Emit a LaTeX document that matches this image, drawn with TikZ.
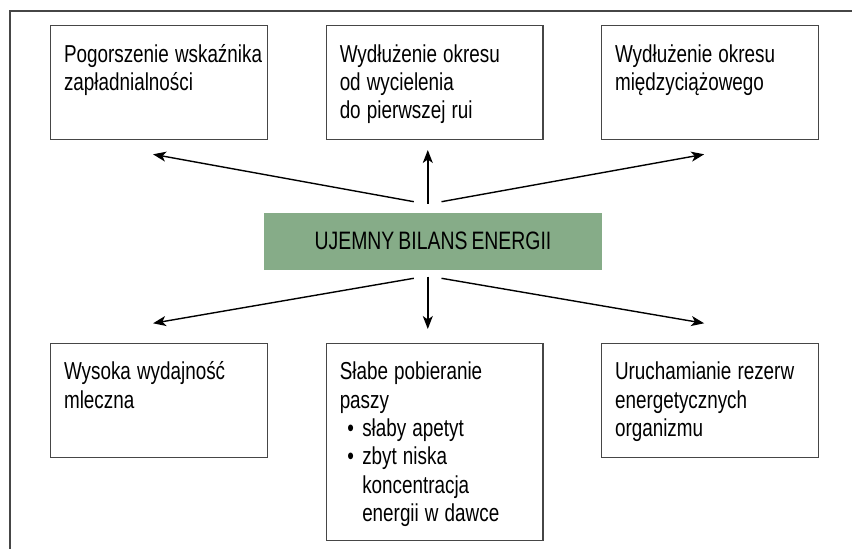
\documentclass[tikz,border=0pt]{standalone}
\usepackage{fontspec}
\setmainfont[FakeStretch=0.77,WordSpace=0.75]{Liberation Sans}
\usetikzlibrary{arrows.meta,calc,positioning}
\definecolor{zielen}{RGB}{134,172,136}
\definecolor{ramka}{RGB}{70,70,70}
\newcommand{\pkt}{\makebox[22.5pt][l]{\hspace{7.5pt}\textbullet}}
\tikzset{
  pole/.style={draw=ramka,line width=1.1pt,anchor=north west,align=left,
    text width=189.7pt,inner xsep=13.5pt,inner ysep=20pt,
    text height=16.7pt,text depth=57.3pt,
    font=\fontsize{24.5}{28.3}\selectfont,
    execute at begin node={\spaceskip=0.25em\relax}},
  bilans/.style={fill=zielen,minimum width=338pt,minimum height=57.3pt,
    inner sep=0pt,font=\fontsize{25.2}{28}\selectfont}
}

\begin{document}
\begin{tikzpicture}[x=1pt,y=1pt,>={Stealth[length=13pt,width=10pt,inset=3.5pt]},line width=1.4pt]
\useasboundingbox (0,0) rectangle (852,549);
\draw[ramka,line width=1.2pt] (852,538) -- (10,538) -- (10,0);

% srodek
\node[bilans] at (433,307.7) (ueb) {UJEMNY BILANS ENERGII};

% skutki
\node[pole] at (50,524) (b1) {Pogorszenie~wskaźnika\\zapładnialności};
\node[pole] at (325.7,524) (b2) {Wydłużenie~okresu\\od~wycielenia\\do~pierwszej~rui};
\node[pole] at (601,524) (b3) {Wydłużenie~okresu\\międzyciążowego};

% przyczyny
\node[pole] at (50,206.3) (b4) {Wysoka~wydajność\\mleczna};
\node[pole,text depth=140.9pt] at (325.7,206.3) (b5) {Słabe~pobieranie\\paszy\\\pkt słaby~apetyt\\\pkt zbyt~niska\\\hspace*{22.5pt}koncentracja\\\hspace*{22.5pt}energii~w~dawce};
\node[pole] at (601,206.3) (b6) {Uruchamianie~rezerw\\energetycznych\\organizmu};

\coordinate (g1) at (413.8,347.3);
\coordinate (g2) at (427.8,345);
\coordinate (g3) at (441.5,347.3);
\coordinate (d1) at (413.8,270.7);
\coordinate (d2) at (427.8,272.3);
\coordinate (d3) at (441.5,270.7);
\coordinate (k1) at (153,394.7);
\coordinate (k2) at (427.8,399);
\coordinate (k3) at (704.2,394.7);
\coordinate (k4) at (153,225.7);
\coordinate (k5) at (427.8,220);
\coordinate (k6) at (704.2,225.7);

\draw [->] (g1) -- (k1);
\draw [->] (g2) -- (k2);
\draw [->] (g3) -- (k3);
\draw [->] (d1) -- (k4);
\draw [->] (d2) -- (k5);
\draw [->] (d3) -- (k6);
\end{tikzpicture}
\end{document}
